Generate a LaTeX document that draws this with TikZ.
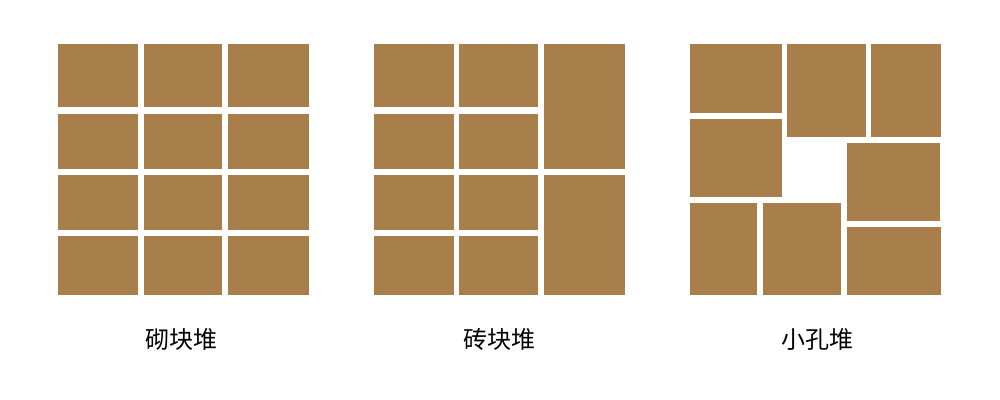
\documentclass[tikz,border=0pt]{standalone}
\usepackage{fontspec}
\newfontfamily\cjk{Noto Sans CJK SC}
\definecolor{brick}{RGB}{168,127,74}
\tikzset{
  block/.style={fill=brick},
  caption/.style={font=\cjk\fontsize{12}{14}\selectfont, inner sep=0pt}
}
\begin{document}
\begin{tikzpicture}[x=0.5pt,y=-0.5pt]
\useasboundingbox[fill=white] (0,0) rectangle (1000,400);
% 砌块堆
\foreach \xa/\xb in {58/137.7,143.7/221.7,228/308.7}
  \foreach \ya/\yb in {44.3/107,113.7/169,174.7/230.3,236.3/295.3}
    \fill[block] (\xa,\ya) rectangle (\xb,\yb);
% 砖块堆
\foreach \xa/\xb in {373.7/453.7,459.3/537.7}
  \foreach \ya/\yb in {44.3/107,113.7/169,174.7/230.3,236.3/295.3}
    \fill[block] (\xa,\ya) rectangle (\xb,\yb);
\fill[block] (543.7,44.3) rectangle (624.7,169);
\fill[block] (543.7,174.7) rectangle (624.7,295.3);
% 小孔堆
\fill[block] (690.3,44.3) rectangle (781.7,113);
\fill[block] (787.3,44.3) rectangle (865.7,137);
\fill[block] (871.3,44.3) rectangle (941,137);
\fill[block] (690.3,118.7) rectangle (781.7,196.7);
\fill[block] (847,143) rectangle (940.3,221);
\fill[block] (690.3,203) rectangle (757.3,295.3);
\fill[block] (763.3,203) rectangle (841.3,295.3);
\fill[block] (847,227.3) rectangle (941,295.3);

\node[caption] (pile1) at (181.7,339) {砌块堆};
\node[caption] (pile2) at (499,339) {砖块堆};
\node[caption] (pile3) at (817,339) {小孔堆};
\end{tikzpicture}
\end{document}
